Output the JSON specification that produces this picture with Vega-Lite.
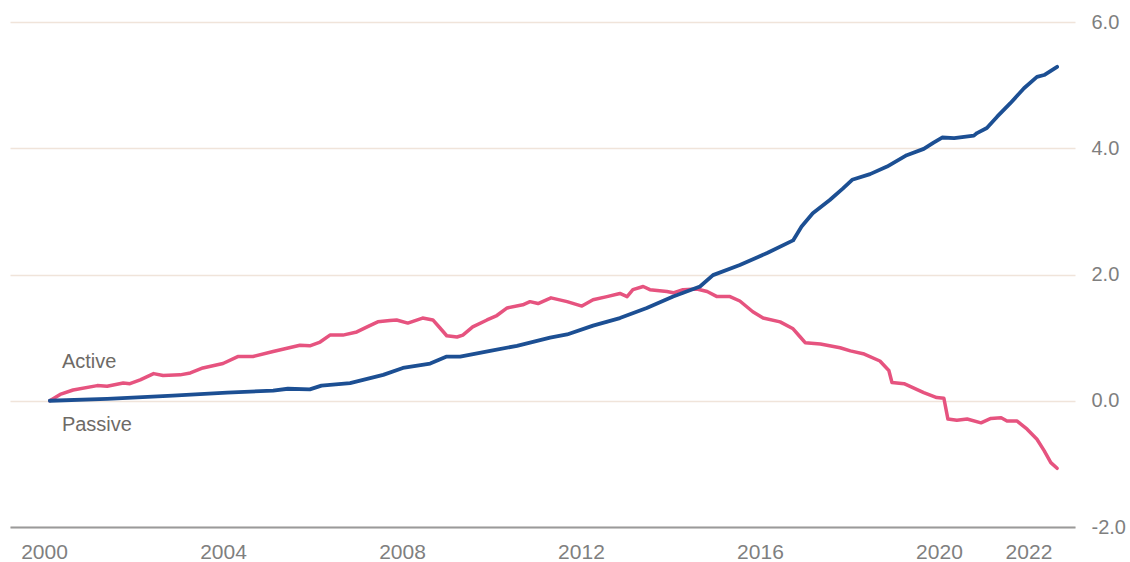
{
  "$schema": "https://vega.github.io/schema/vega-lite/v6.json",
  "width": 1065,
  "height": 505,
  "autosize": {"type": "none"},
  "padding": {"left": 10, "top": 22, "right": 55, "bottom": 35},
  "background": "white",
  "config": {"view": {"stroke": null}, "font": "Liberation Sans"},
  "datasets": {
    "active": [
      {"year": 2000.13, "value": 0.00}, {"year": 2000.36, "value": 0.10}, {"year": 2000.65, "value": 0.17},
      {"year": 2001.19, "value": 0.24}, {"year": 2001.41, "value": 0.23}, {"year": 2001.77, "value": 0.28},
      {"year": 2001.92, "value": 0.27}, {"year": 2002.15, "value": 0.33}, {"year": 2002.45, "value": 0.43},
      {"year": 2002.66, "value": 0.40}, {"year": 2003.04, "value": 0.41}, {"year": 2003.27, "value": 0.44},
      {"year": 2003.55, "value": 0.52}, {"year": 2004.0, "value": 0.59}, {"year": 2004.33, "value": 0.70},
      {"year": 2004.67, "value": 0.70}, {"year": 2005.12, "value": 0.78}, {"year": 2005.72, "value": 0.88},
      {"year": 2005.94, "value": 0.87}, {"year": 2006.17, "value": 0.93}, {"year": 2006.39, "value": 1.04},
      {"year": 2006.68, "value": 1.04}, {"year": 2006.99, "value": 1.09}, {"year": 2007.28, "value": 1.19},
      {"year": 2007.46, "value": 1.25}, {"year": 2007.73, "value": 1.27}, {"year": 2007.88, "value": 1.28},
      {"year": 2008.13, "value": 1.23}, {"year": 2008.46, "value": 1.31}, {"year": 2008.69, "value": 1.28},
      {"year": 2008.84, "value": 1.16}, {"year": 2009.0, "value": 1.03}, {"year": 2009.23, "value": 1.01},
      {"year": 2009.36, "value": 1.04}, {"year": 2009.58, "value": 1.17}, {"year": 2009.90, "value": 1.28},
      {"year": 2010.12, "value": 1.35}, {"year": 2010.35, "value": 1.47}, {"year": 2010.70, "value": 1.52},
      {"year": 2010.86, "value": 1.57}, {"year": 2011.04, "value": 1.54}, {"year": 2011.33, "value": 1.63},
      {"year": 2011.69, "value": 1.57}, {"year": 2012.02, "value": 1.50}, {"year": 2012.27, "value": 1.60},
      {"year": 2012.58, "value": 1.65}, {"year": 2012.87, "value": 1.70}, {"year": 2013.03, "value": 1.65},
      {"year": 2013.16, "value": 1.76}, {"year": 2013.39, "value": 1.81}, {"year": 2013.54, "value": 1.76},
      {"year": 2013.92, "value": 1.73}, {"year": 2014.06, "value": 1.71}, {"year": 2014.28, "value": 1.76},
      {"year": 2014.59, "value": 1.77}, {"year": 2014.82, "value": 1.73}, {"year": 2015.04, "value": 1.65},
      {"year": 2015.33, "value": 1.65}, {"year": 2015.55, "value": 1.58}, {"year": 2015.84, "value": 1.41},
      {"year": 2016.07, "value": 1.31}, {"year": 2016.45, "value": 1.25}, {"year": 2016.74, "value": 1.14},
      {"year": 2016.90, "value": 1.01}, {"year": 2017.01, "value": 0.92}, {"year": 2017.35, "value": 0.90},
      {"year": 2017.79, "value": 0.84}, {"year": 2018.02, "value": 0.79}, {"year": 2018.33, "value": 0.74},
      {"year": 2018.68, "value": 0.63}, {"year": 2018.88, "value": 0.48}, {"year": 2018.95, "value": 0.29},
      {"year": 2019.22, "value": 0.27}, {"year": 2019.66, "value": 0.13}, {"year": 2019.95, "value": 0.05},
      {"year": 2020.11, "value": 0.04}, {"year": 2020.20, "value": -0.29}, {"year": 2020.40, "value": -0.31},
      {"year": 2020.63, "value": -0.29}, {"year": 2020.94, "value": -0.35}, {"year": 2021.16, "value": -0.28},
      {"year": 2021.39, "value": -0.27}, {"year": 2021.52, "value": -0.32}, {"year": 2021.74, "value": -0.32},
      {"year": 2021.97, "value": -0.45}, {"year": 2022.19, "value": -0.61}, {"year": 2022.35, "value": -0.79},
      {"year": 2022.50, "value": -0.98}, {"year": 2022.64, "value": -1.07}
    ],
    "passive": [
      {"year": 2000.13, "value": 0.00}, {"year": 2001.41, "value": 0.03}, {"year": 2002.88, "value": 0.08},
      {"year": 2004.09, "value": 0.13}, {"year": 2005.12, "value": 0.16}, {"year": 2005.45, "value": 0.19},
      {"year": 2005.94, "value": 0.18}, {"year": 2006.20, "value": 0.24}, {"year": 2006.84, "value": 0.28},
      {"year": 2007.58, "value": 0.41}, {"year": 2008.02, "value": 0.52}, {"year": 2008.63, "value": 0.59},
      {"year": 2009.0, "value": 0.70}, {"year": 2009.30, "value": 0.70}, {"year": 2009.97, "value": 0.79},
      {"year": 2010.57, "value": 0.87}, {"year": 2011.31, "value": 1.00}, {"year": 2011.69, "value": 1.05},
      {"year": 2012.27, "value": 1.19}, {"year": 2012.87, "value": 1.31}, {"year": 2013.47, "value": 1.47},
      {"year": 2014.06, "value": 1.65}, {"year": 2014.66, "value": 1.81}, {"year": 2014.95, "value": 1.99},
      {"year": 2015.55, "value": 2.15}, {"year": 2016.16, "value": 2.34}, {"year": 2016.74, "value": 2.54},
      {"year": 2016.93, "value": 2.76}, {"year": 2017.18, "value": 2.97}, {"year": 2017.56, "value": 3.18},
      {"year": 2017.85, "value": 3.36}, {"year": 2018.06, "value": 3.50}, {"year": 2018.46, "value": 3.59},
      {"year": 2018.84, "value": 3.71}, {"year": 2019.28, "value": 3.89}, {"year": 2019.66, "value": 3.99},
      {"year": 2019.88, "value": 4.09}, {"year": 2020.07, "value": 4.17}, {"year": 2020.34, "value": 4.16},
      {"year": 2020.78, "value": 4.20}, {"year": 2020.85, "value": 4.24}, {"year": 2021.07, "value": 4.32},
      {"year": 2021.30, "value": 4.50}, {"year": 2021.59, "value": 4.71}, {"year": 2021.90, "value": 4.95},
      {"year": 2022.19, "value": 5.13}, {"year": 2022.35, "value": 5.16}, {"year": 2022.64, "value": 5.29}
    ],
    "labels": [
      {"year": 2000.4, "value": 0.62, "label": "Active"},
      {"year": 2000.4, "value": -0.38, "label": "Passive"}
    ]
  },
  "encoding": {
    "x": {
      "field": "year", "type": "quantitative",
      "scale": {"domain": [1999.24, 2023.04], "nice": false, "zero": false},
      "axis": {
        "title": null, "values": [2000, 2004, 2008, 2012, 2016, 2020, 2022], "format": "d",
        "grid": false, "ticks": false, "domain": true, "domainColor": "#9a9a9a", "domainWidth": 2,
        "labelFont": "Liberation Sans", "labelFontSize": 21, "labelColor": "#7f7f7f",
        "labelPadding": 14, "labelBaseline": "top", "labelFlush": false
      }
    },
    "y": {
      "field": "value", "type": "quantitative",
      "scale": {"domain": [-2, 6], "nice": false, "zero": false},
      "axis": {
        "title": null, "orient": "right", "values": [-2, 0, 2, 4, 6],
        "labelExpr": "datum.value < 0 ? '-' + format(-datum.value, '.1f') : format(datum.value, '.1f')",
        "grid": true, "gridColor": "#f0e4da", "gridWidth": 1.5,
        "ticks": false, "domain": false,
        "labelFont": "Liberation Sans", "labelFontSize": 20, "labelColor": "#7f7f7f",
        "labelPadding": 16, "labelAlign": "left", "labelBaseline": "middle"
      }
    }
  },
  "layer": [
    {
      "data": {"name": "active"},
      "mark": {"type": "line", "color": "#e6537f", "strokeWidth": 3.5, "strokeJoin": "round", "strokeCap": "round"}
    },
    {
      "data": {"name": "passive"},
      "mark": {"type": "line", "color": "#1c4f93", "strokeWidth": 3.8, "strokeJoin": "round", "strokeCap": "round"}
    },
    {
      "data": {"name": "labels"},
      "mark": {"type": "text", "align": "left", "baseline": "middle", "font": "Liberation Sans", "fontSize": 20, "color": "#6e6a66"},
      "encoding": {"text": {"field": "label", "type": "nominal"}}
    }
  ]
}
